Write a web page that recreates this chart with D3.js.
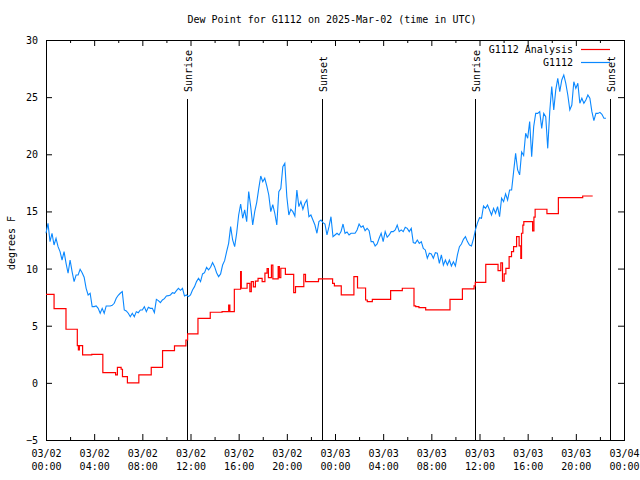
<!DOCTYPE html>
<html><head><meta charset="utf-8">
<script src="https://cdn.jsdelivr.net/npm/d3@7"></script>
<style>
body{margin:0;background:#fff}
svg{display:block}
text{font-family:"DejaVu Sans Mono",monospace;font-size:10px;fill:#000}
</style>
</head><body>
<svg id="c" width="640" height="480"></svg>
<script>
const title = "Dew Point for G1112 on 2025-Mar-02 (time in UTC)";
const yLabel = "degrees F";
const seriesNames = ["G1112 Analysis", "G1112"];
const seriesColors = ["#ff0000", "#0a88ff"];
const yTicks = [-5, 0, 5, 10, 15, 20, 25, 30];
const xStart = "2025-03-02T00:00Z";
const xEnd = "2025-03-04T00:00Z";
const xMajorHours = [0, 4, 8, 12, 16, 20, 24, 28, 32, 36, 40, 44, 48];
const xMinorHours = [2, 6, 10, 14, 18, 22, 26, 30, 34, 38, 42, 46];
const sunLabels = ["Sunrise", "Sunset", "Sunrise", "Sunset"];
const sunTimes = ["2025-03-02T11:45Z", "2025-03-02T22:56Z", "2025-03-03T11:38Z", "2025-03-03T22:50Z"];

// G1112 Analysis (step series): hours since start, value
const redHours = [0,0.67,1.66,2.6,2.69,2.77,3.04,3.8,4.72,5.78,
 5.93,6.24,6.35,6.76,7.71,8.74,9.68,10.67,11.62,11.76,
 12.62,13.64,14.62,15.17,15.27,15.64,16.16,16.22,16.7,16.93,
 17.05,17.22,17.39,17.61,17.95,18.18,18.36,18.47,18.72,18.84,
 19.28,19.38,19.5,19.88,20.57,20.72,21.41,21.55,22.63,23.8,
 23.95,24.52,25.57,25.87,26.54,26.68,27.1,28.62,29.59,30.56,
 30.7,30.97,31.53,33.55,34.58,35.55,35.65,36.52,37.54,37.77,
 37.91,38.05,38.19,38.46,38.66,38.83,39.08,39.29,39.43,39.49,
 39.6,39.68,40.41,40.52,40.62,41.6,42.55,44.57,45.4];
const redValues = [7.75,6.5,4.69,3.25,2.88,3.25,2.44,2.5,0.89,0.69,
 1.36,1.19,0.55,0,0.69,1.36,2.82,3.23,3.75,4.28,
 5.65,6.18,6.23,6.8,6.23,8.19,9.73,8.28,8.71,7.98,
 8.86,8.4,8.9,9.15,8.86,9.6,10.0,9.2,10.3,9.1,
 10.17,9.2,10.03,9.5,7.9,8.42,9.5,8.86,9.09,8.7,
 8.48,7.69,9.3,8.3,7.25,7.1,7.31,8.07,8.28,6.73,
 6.67,6.58,6.38,7.31,8.22,8.48,8.8,10.37,9.82,10.5,
 8.9,9.53,10.02,11.05,11.48,11.92,12.8,11.98,10.9,13.09,
 13.8,14.1,13.3,14.5,15.19,14.8,16.2,16.35,16.35];

// G1112 observations, one every 10 minutes from xStart
const blueStepMinutes = 10;
const blueValues = [
 13.09,13.96,12.36,13.09,12.06,12.65,11.92,11.48,10.75,11.48,
 10.46,9.59,10.75,9.73,8.86,9.44,9.44,9.94,9.64,9.24,
 8.27,7.69,7.84,6.67,6.67,6.73,6.52,6.09,6.52,6.09,
 6.73,6.73,6.73,6.78,6.96,7.4,7.66,7.84,7.98,6.38,
 6.29,6.09,5.79,6.09,5.79,6.23,6.14,6.38,6.38,6.67,
 6.23,6.61,6.52,6.52,6.14,7.31,7.2,7.02,7.25,7.37,
 7.6,7.63,7.69,7.89,7.84,8.07,8.27,8.1,8.27,7.6,
 7.69,7.55,
 7.69,8.13,8.42,8.86,9.15,8.86,9.53,9.64,10.11,9.88,
 10.11,10.52,10.17,9.64,9.29,9.53,10.31,10.69,11.48,12.21,
 13.67,12.5,11.92,13.09,14.69,15.65,14.4,15.13,14.11,16.73,
 15.42,13.81,14.98,
 15.8,17.0,18.1,17.6,17.9,17.23,16.44,14.98,15.6,14.84,
 13.81,16.73,17.0,18.92,19.21,16.29,14.69,15.19,14.98,14.6,
 16.88,15.42,15.86,15.19,15.71,16.0,14.54,14.69,14.25,13.81,
 13.09,14.11,14.25,14.02,13.9,12.94,13.67,14.54,
 12.79,12.94,13.09,12.94,13.23,13.9,13.09,13.2,12.94,13.09,
 13.09,13.09,13.38,13.9,13.61,13.73,13.32,13.52,13.32,12.36,
 12.36,11.98,12.15,12.65,13.09,12.36,13.23,12.74,12.94,13.23,
 13.23,13.38,13.81,13.23,13.38,13.23,13.61,13.52,13.23,13.52,
 12.27,12.21,12.5,12.21,12.36,11.77,11.63,10.9,11.34,11.28,
 10.9,11.39,11.34,10.46,11.19,10.31,10.75,10.31,10.75,10.23,
 10.6,10.23,11.19,11.92,12.15,12.56,12.79,12.36,12.06,11.98,
 12.6,13.4,14.0,14.45,
 14.4,15.48,15.27,15.56,15.13,14.69,15.27,14.84,15.42,14.54,
 16.15,15.86,16.53,16.0,16.88,16.88,18.48,20.08,18.63,18.2,
 20.2,19.9,
 21.84,21.4,22.86,19.79,22.42,23.58,23.58,23.73,22.27,23.58,
 23.29,20.52,23.73,25.92,23.88,25.63,26.65,25.48,26.5,26.94,
 26.21,25.19,23.88,24.31,26.35,25.77,26.21,24.46,24.9,24.46,
 24.75,25.19,24.9,23.73,22.94,23.58,23.58,23.67,23.5,23.15,
 23.15];

const t0 = new Date(xStart).getTime();
const hr = h => new Date(t0 + h * 3600e3);
const redData = redHours.map((h, i) => ({t: hr(h), v: redValues[i]}));
const blueData = blueValues.map((v, i) => ({t: new Date(t0 + i * blueStepMinutes * 60e3), v}));

const svg = d3.select("#c");
const L = 46, R = 624, T = 40, B = 440;
const x = d3.scaleUtc().domain([new Date(xStart), new Date(xEnd)]).range([L, R]);
const y = d3.scaleLinear().domain([yTicks[0], yTicks[yTicks.length - 1]]).range([B, T]);

// title
svg.append("text").attr("x", 332).attr("y", 23).attr("text-anchor", "middle").text(title);

// y label
svg.append("text").attr("transform", "translate(15,243) rotate(-90)")
  .attr("text-anchor", "middle").text(yLabel);

// axes
const majorT = xMajorHours.map(hr), minorT = xMinorHours.map(hr);
const gl = svg.append("g").attr("transform", `translate(${L},0)`)
  .call(d3.axisLeft(y).tickValues(yTicks).tickSizeInner(-6).tickSizeOuter(0).tickPadding(8).tickFormat(d3.format("d")));
gl.select(".domain").remove();
gl.selectAll("text").attr("dy", "0.35em");
const gr = svg.append("g").attr("transform", `translate(${R},0)`)
  .call(d3.axisRight(y).tickValues(yTicks).tickSizeInner(-6).tickSizeOuter(0).tickFormat(""));
gr.select(".domain").remove();

const fmtD = d3.utcFormat("%m/%d"), fmtT = d3.utcFormat("%H:%M");
const gb = svg.append("g").attr("transform", `translate(0,${B})`)
  .call(d3.axisBottom(x).tickValues(majorT).tickSizeInner(-6).tickSizeOuter(0).tickFormat(""));
gb.select(".domain").remove();
gb.selectAll(".tick text").remove();
gb.selectAll(".tick").each(function(d) {
  const t = d3.select(this).append("text").attr("text-anchor", "middle");
  t.append("tspan").attr("x", 0).attr("y", 17).text(fmtD(d));
  t.append("tspan").attr("x", 0).attr("y", 30).text(fmtT(d));
});
const gbm = svg.append("g").attr("transform", `translate(0,${B})`)
  .call(d3.axisBottom(x).tickValues(minorT).tickSizeInner(-3).tickSizeOuter(0).tickFormat(""));
gbm.select(".domain").remove();
const gt = svg.append("g").attr("transform", `translate(0,${T})`)
  .call(d3.axisTop(x).tickValues(majorT).tickSizeInner(-6).tickSizeOuter(0).tickFormat(""));
gt.select(".domain").remove();
const gtm = svg.append("g").attr("transform", `translate(0,${T})`)
  .call(d3.axisTop(x).tickValues(minorT).tickSizeInner(-3).tickSizeOuter(0).tickFormat(""));
gtm.select(".domain").remove();

svg.append("rect").attr("x", L + 0.5).attr("y", T + 0.5).attr("width", R - L).attr("height", B - T)
  .attr("fill", "none").attr("stroke", "#000").attr("shape-rendering", "crispEdges");

// sunrise / sunset lines
sunTimes.forEach((s, i) => {
  const px = Math.round(x(new Date(s))) + 0.5;
  svg.append("line").attr("x1", px).attr("x2", px).attr("y1", 99).attr("y2", B)
    .attr("stroke", "#000").attr("shape-rendering", "crispEdges");
  svg.append("text").attr("transform", `translate(${px + 4},92) rotate(-90)`)
    .attr("text-anchor", "start").text(sunLabels[i]);
});

// series
svg.append("path").datum(redData)
  .attr("d", d3.line().x(d => x(d.t)).y(d => y(d.v)).curve(d3.curveStepAfter))
  .attr("fill", "none").attr("stroke", seriesColors[0]).attr("stroke-width", 1.2);
svg.append("path").datum(blueData)
  .attr("d", d3.line().x(d => x(d.t)).y(d => y(d.v)))
  .attr("fill", "none").attr("stroke", seriesColors[1]).attr("stroke-width", 1.1);

// legend
seriesNames.forEach((n, i) => {
  const ly = 49.5 + i * 13;
  svg.append("text").attr("x", 573).attr("y", ly + 3.5).attr("text-anchor", "end").text(n);
  svg.append("line").attr("x1", 581).attr("x2", 610).attr("y1", ly).attr("y2", ly)
    .attr("stroke", seriesColors[i]).attr("stroke-width", 1.2);
});
</script>
</body></html>
